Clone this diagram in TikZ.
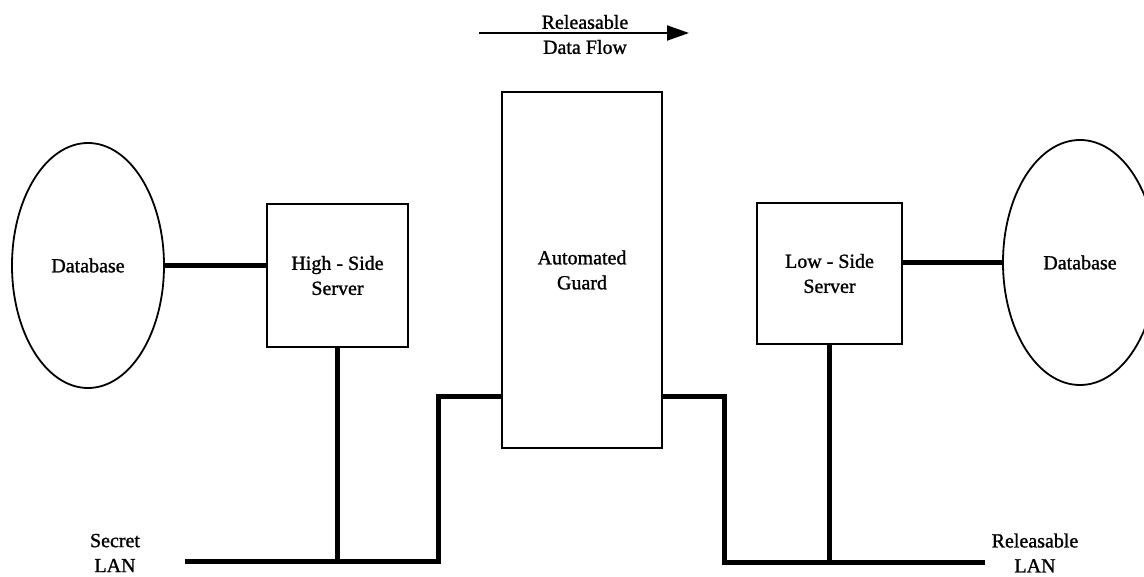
\documentclass[tikz,border=0pt]{standalone}
\usepackage{fontspec}
\setmainfont{Liberation Serif}[BoldFont=Liberation Serif, BoldFeatures={FakeBold=1.2}]
\usetikzlibrary{shapes.geometric,arrows.meta}
\tikzset{
  box/.style={draw, line width=2pt, rectangle, inner sep=0pt, align=center},
  db/.style={draw, line width=1.8pt, ellipse, inner sep=0pt, minimum width=152pt, minimum height=245pt},
  lan/.style={line width=5pt},
  lbl/.style={inner sep=0pt, align=center},
}
\begin{document}
\begin{tikzpicture}[x=1pt, y=-1pt, font=\fontsize{20}{25}\selectfont\bfseries]
\useasboundingbox (0,0) rectangle (1144,577);
% nodes
\node[db] (dbL) at (88,265.5) {Database};
\node[db, minimum width=154pt] (dbR) at (1080,262.5) {Database};
\node[box, minimum width=141pt, minimum height=143pt] (hs) at (337.5,275.5) {High - Side\\Server};
\node[box, minimum width=160pt, minimum height=356pt] (guard) at (582,270) {Automated\\Guard};
\node[box, minimum width=145pt, minimum height=141pt] (ls) at (829.5,273.5) {Low - Side\\Server};
% data flow arrow
\coordinate (flowA) at (479,33);
\coordinate (flowB) at (689,33);
\draw[line width=2pt, -{Triangle[length=22pt,width=15pt]}] (flowA) -- (flowB);
\node[lbl] (rel) at (585,22) {Releasable};
\node[lbl] (df) at (585,47) {Data Flow};
% LAN labels
\node[lbl] (secret) at (115,553) {Secret\\LAN};
\node[lbl] (rellan) at (1035,553) {Releasable\\LAN};
% coordinates for LAN wiring
\coordinate (sL) at (185,561);
\coordinate (sR) at (438,561);
\coordinate (gL) at (guard.west |- 0,397);
\coordinate (gR) at (guard.east |- 0,397);
\coordinate (rL) at (724,562);
\coordinate (rR) at (985,562);
% connectors
\draw[lan] (dbL.east) -- (dbL.east -| hs.west);
\draw[lan] (dbR.west -| ls.east) -- (dbR.west);
\draw[lan] (hs.south) -- (hs.south |- sL);
\draw[lan] (ls.south) -- (ls.south |- rR);
\draw[lan] (sL) -- (sR) |- (gL);
\draw[lan] (gR) -| (rL) -- (rR);
\end{tikzpicture}
\end{document}
